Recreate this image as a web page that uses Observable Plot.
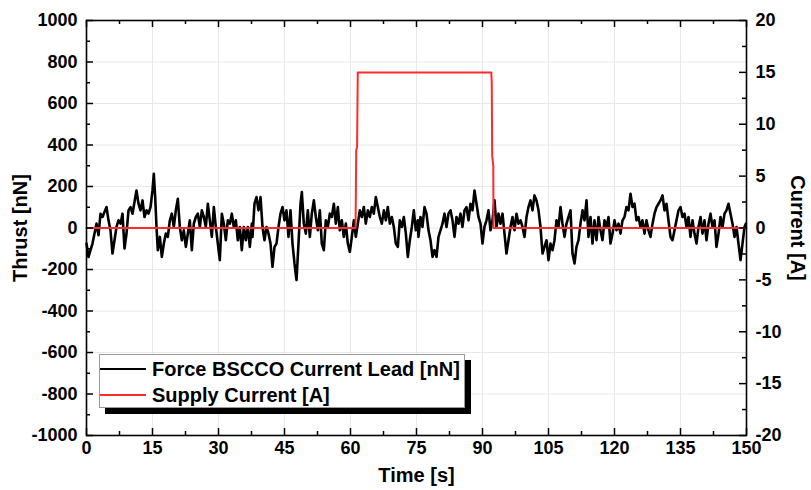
<!DOCTYPE html>
<html><head><meta charset="utf-8">
<script src="https://cdn.jsdelivr.net/npm/d3@7"></script>
<script src="https://cdn.jsdelivr.net/npm/@observablehq/plot@0.6"></script>
<style>
body{margin:0;background:#fff;}
#wrap{position:relative;width:811px;height:490px;font-family:"Liberation Sans",Arial,sans-serif;}
#legend{position:absolute;left:99px;top:354px;width:364px;height:52px;border:1px solid #9a9a9a;background:#fff;box-shadow:6px 6px 0 #000;}
.row{position:absolute;left:0;height:22px;display:flex;align-items:center;}
.sw{width:46px;height:2px;}
.lab{margin-left:6px;font-weight:bold;font-size:20px;color:#000;white-space:nowrap;}
</style></head>
<body>
<div id="wrap">
<div id="chart"></div>
<div id="legend">
  <div class="row" style="top:3px"><div class="sw" style="background:#000"></div><div class="lab">Force BSCCO Current Lead [nN]</div></div>
  <div class="row" style="top:29px"><div class="sw" style="background:#ff2a2a"></div><div class="lab">Supply Current [A]</div></div>
</div>
</div>
<script>
// Time axis ticks [s]
const xTicks = [0, 15, 30, 45, 60, 75, 90, 105, 120, 135, 150];
const xMinor = [7.5, 22.5, 37.5, 52.5, 67.5, 82.5, 97.5, 112.5, 127.5, 142.5];
// Thrust ticks [nN]
const thrustTicks = [-1000, -800, -600, -400, -200, 0, 200, 400, 600, 800, 1000];
const thrustMinor = [-900, -700, -500, -300, -100, 100, 300, 500, 700, 900];
// Current ticks [A]
const currentTicks = [-20, -15, -10, -5, 0, 5, 10, 15, 20];
const currentMinor = [-17.5, -12.5, -7.5, -2.5, 2.5, 7.5, 12.5, 17.5];
const nNperA = 50; // right axis: 20 A ↔ 1000 nN

// Supply current [time s, current A]
const supplyCurrent = [
  [0, 0], [61.15, 0], [61.3, 7.5], [61.5, 7.8], [61.65, 15], [92.0, 15], [92.1, 14], [92.2, 7],
  [92.45, 6], [92.5, 0], [150, 0]
];

// Force BSCCO current lead [time s, thrust nN]
const force = [
  [0,-75],[0.45,-140],[0.91,-107],[1.36,-75],[1.82,-27],[2.27,21],[2.73,-35],[3.18,69],[3.64,53],[4.09,77],
  [4.55,101],[5.0,37],[5.45,-11],[5.91,-123],[6.36,-59],[6.82,5],[7.27,37],[7.73,21],[8.18,69],[8.64,-99],
  [9.09,-27],[9.55,85],[10.0,101],[10.45,69],[10.91,125],[11.36,181],[11.82,117],[12.27,85],[12.73,133],[13.18,53],
  [13.64,85],[14.09,69],[14.55,101],[15.0,181],[15.3,261],[15.61,149],[15.91,5],[16.21,-107],
  [16.67,-43],[17.12,-139],[17.58,-75],[18.03,-27],[18.48,-43],[18.94,37],[19.39,69],[19.85,5],[20.3,85],[20.76,141],
  [21.21,5],[21.67,-59],[22.12,-11],[22.58,-91],[23.03,-27],[23.48,37],[23.94,-107],[24.39,21],[24.85,53],[25.3,69],
  [25.76,5],[26.21,85],[26.67,53],[27.12,5],[27.58,117],[28.03,37],[28.48,-43],[28.94,101],[29.39,5],[29.85,-75],
  [30.3,-155],[30.76,69],[31.21,21],[31.67,-59],[32.12,37],[32.58,21],[33.03,69],[33.48,5],[33.94,37],[34.39,-59],
  [34.85,5],[35.3,-107],[35.76,5],[36.21,-59],[36.67,5],[37.12,-91],[37.58,21],
  [37.73,-43],[38.18,117],[38.64,149],[39.09,85],[39.55,149],[40.0,5],[40.45,-59],[40.91,5],[41.36,-27],[41.82,-75],
  [42.27,-187],[42.73,-91],[43.18,-75],[43.64,5],[44.09,69],[44.55,101],[45.0,37],[45.45,85],[45.91,-43],[46.36,85],
  [46.82,-75],[47.27,-171],[47.73,-251],[48.18,-75],[48.64,117],[48.94,173],[49.39,21],[49.85,-27],[50.3,85],[50.76,-43],
  [51.21,69],[51.67,133],[52.12,53],[52.58,-11],[53.03,85],[53.48,-75],[53.94,-107],[54.39,37],[54.85,5],[55.3,69],
  [55.76,53],[56.21,117],[56.67,21],[57.12,101],[57.58,-11],[58.03,37],[58.48,-43],[58.94,21],[59.39,-75],[59.85,-115],
  [60.3,-43],[60.76,37],[61.21,-43],[61.67,21],[62.12,85],[62.58,53],[63.03,101],[63.48,21],[63.94,85],[64.39,53],
  [64.85,101],[65.3,69],[65.76,149],[66.21,101],[66.67,53],[67.12,21],[67.58,85],[68.03,37],[68.48,101],[68.94,21],
  [69.39,53],[69.85,5],[70.3,-75],[70.76,-91],[71.21,37],[71.67,5],[72.12,53],[72.58,-27],[73.03,-139],[73.48,-59],
  [73.94,5],[74.39,85],[74.85,-11],[75.3,37],
  [75.45,-43],[75.91,53],[76.36,5],[76.82,101],[77.27,69],[77.73,-11],[78.18,-59],[78.64,-139],[79.09,-107],[79.55,-139],
  [80.0,-43],[80.45,-11],[80.91,21],[81.36,69],[81.82,5],[82.27,69],[82.73,85],[83.18,37],[83.64,-43],[84.09,53],
  [84.55,21],[85.0,69],[85.45,5],[85.91,85],[86.36,101],[86.82,37],[87.27,117],[87.73,85],[88.18,181],[88.64,117],
  [89.09,53],[89.55,21],[90.0,-75],[90.45,5],[90.91,37],[91.36,85],[91.82,-11],[92.27,37],[92.73,133],[93.18,5],
  [93.64,69],[94.09,21],[94.55,69],[95.0,-27],[95.45,-123],[95.91,-59],[96.36,5],[96.82,53],[97.27,-11],[97.73,69],
  [98.18,21],[98.64,37],[99.09,5],[99.55,-43],[100.0,53],[100.45,101],[100.91,133],[101.36,85],[101.82,157],[102.27,133],
  [102.73,85],[103.18,5],[103.64,-123],[104.09,-91],[104.55,-59],[105.0,-155],[105.45,-75],[105.91,-107],[106.36,-59],[106.82,37],
  [107.27,5],[107.73,101],[108.18,21],[108.64,-43],[109.09,21],[109.55,53],[110.0,85],[110.45,-123],[110.91,-171],[111.36,-91],
  [111.82,-59],[112.27,21],[112.73,85],
  [113.18,37],[113.64,133],[114.09,-43],[114.55,53],[115.0,-75],[115.45,37],[115.91,-59],[116.36,53],[116.82,-11],[117.27,-59],
  [117.73,37],[118.18,5],[118.64,53],[119.09,-75],[119.55,-27],[120.0,37],[120.45,-11],[120.91,21],[121.36,-27],[121.82,37],
  [122.27,53],[122.73,101],[123.18,85],[123.64,165],[124.09,101],[124.55,117],[125.0,37],[125.45,53],[125.91,5],[126.36,37],
  [126.82,-27],[127.27,37],[127.73,-11],[128.18,-43],[128.64,21],[129.09,69],[129.55,101],[130.0,117],[130.45,133],[130.91,157],
  [131.36,85],[131.82,117],[132.27,37],[132.73,-43],[133.18,-59],[133.64,-11],[134.09,37],[134.55,85],[135.0,101],[135.45,53],
  [135.91,69],[136.36,5],[136.82,53],[137.27,-43],[137.73,37],[138.18,-27],[138.64,-75],[139.09,5],[139.55,53],[140.0,-27],
  [140.45,37],[140.91,-59],[141.36,21],[141.82,69],[142.27,5],[142.73,37],[143.18,-91],[143.64,-27],[144.09,53],[144.55,5],
  [145.0,69],[145.45,85],[145.91,117],[146.36,69],[146.82,21],[147.27,-43],[147.73,5],[148.18,-75],[148.64,-155],[149.09,-75],
  [149.55,5],[149.85,21]
];

const W = 811, H = 490, mL = 86, mR = 65, mT = 20, mB = 55;
const fw = W - mL - mR, fh = H - mT - mB;
const gridColor = "#e8e8e8";

const chart = Plot.plot({
  width: W, height: H,
  marginLeft: mL, marginRight: mR, marginTop: mT, marginBottom: mB,
  style: {fontFamily: "'Liberation Sans', Arial, sans-serif", fontWeight: "bold", fontSize: "18px", color: "#000", background: "#fff", overflow: "visible"},
  x: {domain: [0, 150]},
  y: {domain: [-1000, 1000]},
  marks: [
    Plot.gridX(xTicks, {stroke: gridColor, strokeOpacity: 1, strokeWidth: 1}),
    Plot.gridY(thrustTicks, {stroke: gridColor, strokeOpacity: 1, strokeWidth: 1}),
    Plot.line(force, {x: d => d[0], y: d => d[1], stroke: "#000", strokeWidth: 2.6, strokeLinejoin: "round"}),
    Plot.line(supplyCurrent, {x: d => d[0], y: d => d[1] * nNperA, stroke: "#ff2a2a", strokeWidth: 2}),
    Plot.frame({stroke: "#000", strokeWidth: 1.6}),
    // inward ticks: bottom & top
    Plot.ruleX(xTicks, {x: d => d, insetTop: fh - 7, stroke: "#000", strokeWidth: 1.5}),
    Plot.ruleX(xMinor, {x: d => d, insetTop: fh - 4, stroke: "#000", strokeWidth: 1.5}),
    Plot.ruleX(xTicks, {x: d => d, insetBottom: fh - 7, stroke: "#000", strokeWidth: 1.5}),
    Plot.ruleX(xMinor, {x: d => d, insetBottom: fh - 4, stroke: "#000", strokeWidth: 1.5}),
    // inward ticks: left (thrust) & right (current)
    Plot.ruleY(thrustTicks, {y: d => d, insetRight: fw - 7, stroke: "#000", strokeWidth: 1.5}),
    Plot.ruleY(thrustMinor, {y: d => d, insetRight: fw - 4, stroke: "#000", strokeWidth: 1.5}),
    Plot.ruleY(currentTicks, {y: d => d * nNperA, insetLeft: fw - 7, stroke: "#000", strokeWidth: 1.5}),
    Plot.ruleY(currentMinor, {y: d => d * nNperA, insetLeft: fw - 4, stroke: "#000", strokeWidth: 1.5}),
    Plot.axisX(xTicks, {anchor: "bottom", tickSize: 0, tickPadding: 6, tickFormat: d => String(d), label: null, fontSize: 18}),
    Plot.axisY(thrustTicks, {anchor: "left", tickSize: 0, tickPadding: 9, tickFormat: d => String(d), label: null, fontSize: 18}),
    Plot.axisY(currentTicks.map(d => d * nNperA), {anchor: "right", tickSize: 0, tickPadding: 9, tickFormat: d => String(d / nNperA), label: null, fontSize: 18}),
    Plot.text(["Time [s]"], {frameAnchor: "bottom", dy: 46, text: d => d, textAnchor: "middle", fontSize: 20, fontWeight: "bold"}),
    Plot.text(["Thrust [nN]"], {frameAnchor: "left", dx: -66, text: d => d, textAnchor: "middle", rotate: -90, fontSize: 20, fontWeight: "bold"}),
    Plot.text(["Current [A]"], {frameAnchor: "right", dx: 51, text: d => d, textAnchor: "middle", rotate: 90, fontSize: 20, fontWeight: "bold"})
  ]
});
document.getElementById("chart").appendChild(chart);
</script>
</body></html>
